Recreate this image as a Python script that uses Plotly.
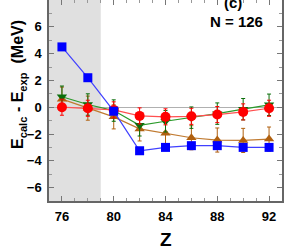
import plotly.graph_objects as go

Z = [76, 78, 80, 82, 84, 86, 88, 90, 92]
blue_sq = [4.5, 2.2, -0.3, -3.25, -3.0, -2.87, -2.87, -3.0, -3.0]
red_circ = [0.0, -0.08, -0.2, -0.65, -0.72, -0.68, -0.55, -0.35, -0.08]
red_err = [0.6] * 9
green_tri = [0.78, 0.2, -0.25, -1.35, -1.05, -0.78, -0.48, -0.15, 0.18]
green_err = [0.8] * 9
brown_tri = [0.6, -0.07, -0.72, -1.62, -1.95, -2.28, -2.45, -2.48, -2.38]
brown_err = [0.9] * 9

shade_range = [75, 79]
xticks = [76, 80, 84, 88, 92]
yticks = [-6, -4, -2, 0, 2, 4, 6, 8]

FONT = "Liberation Sans Narrow, Arial Narrow, Liberation Sans, Arial"

fig = go.Figure()

fig.add_shape(type="rect", xref="x", yref="paper", x0=shade_range[0], x1=shade_range[1],
              y0=0, y1=1, fillcolor="#e0e0e0", line_width=0, layer="below")

def add_series(y, err, color, linecolor, symbol, size):
    kw = {}
    if err is not None:
        kw["error_y"] = dict(type="data", array=err, visible=True,
                             color=color, thickness=1, width=2)
    fig.add_trace(go.Scatter(
        x=Z, y=y, mode="lines+markers",
        line=dict(color=linecolor, width=1.2),
        marker=dict(symbol=symbol, size=size, color=color),
        showlegend=False, **kw))

add_series(brown_tri, brown_err, "#b0600f", "#c07a30", "triangle-up", 9)
add_series(green_tri, green_err, "#0a6e0a", "#2a9a2a", "triangle-down", 9)
add_series(red_circ, red_err, "#ff0000", "#ff5050", "circle", 10)
add_series(blue_sq, None, "#0000ff", "#4040ff", "square", 9)

fig.update_layout(
    width=291, height=248,
    margin=dict(l=49, r=8.5, t=0, b=46.5),
    plot_bgcolor="rgba(0,0,0,0)", paper_bgcolor="white",
    font=dict(family=FONT, color="black"),
    xaxis=dict(range=[75, 93], tickvals=xticks, ticks="inside", ticklen=5,
               tickcolor="#777", showline=True, linecolor="#666", linewidth=1.5,
               mirror="ticks", showgrid=False, zeroline=False, automargin=False,
               minor=dict(dtick=1, ticks="inside", ticklen=3, tickcolor="#999"),
               tickfont=dict(size=13, family=FONT, weight="bold"),
               ticklabelstandoff=3),
    yaxis=dict(range=[-7, 8], tickvals=yticks, ticks="inside", ticklen=5,
               tickcolor="#777", showline=True, linecolor="#666", linewidth=1.5,
               mirror="ticks", showgrid=False, zeroline=True, zerolinecolor="#b0b0b0",
               zerolinewidth=1, automargin=False,
               minor=dict(dtick=1, ticks="inside", ticklen=3, tickcolor="#999"),
               tickfont=dict(size=13, family=FONT, weight="bold"),
               ticklabelstandoff=3),
)

fig.add_annotation(text="E<sub>calc</sub> - E<sub>exp</sub>  (MeV)", textangle=-90,
                   xref="paper", yref="y", x=-0.128, y=1.67, xanchor="center", yanchor="middle",
                   showarrow=False, font=dict(size=16, family=FONT, weight="bold"))
fig.add_annotation(text="Z", xref="x", yref="paper", x=84, y=-0.19, showarrow=False,
                   xanchor="center", yanchor="middle",
                   font=dict(size=19, family=FONT, weight="bold"))
fig.add_annotation(text="(c)", xref="x", yref="y", x=89.2, y=7.85, showarrow=False,
                   xanchor="center", yanchor="middle",
                   font=dict(size=15, family=FONT, weight="bold"))
fig.add_annotation(text="N = 126", xref="x", yref="y", x=89.5, y=6.36, showarrow=False,
                   xanchor="center", yanchor="middle",
                   font=dict(size=15, family=FONT, weight="bold"))

fig.write_html("out.html", config={"displayModeBar": False},
               post_script="document.body.style.margin='0';")
